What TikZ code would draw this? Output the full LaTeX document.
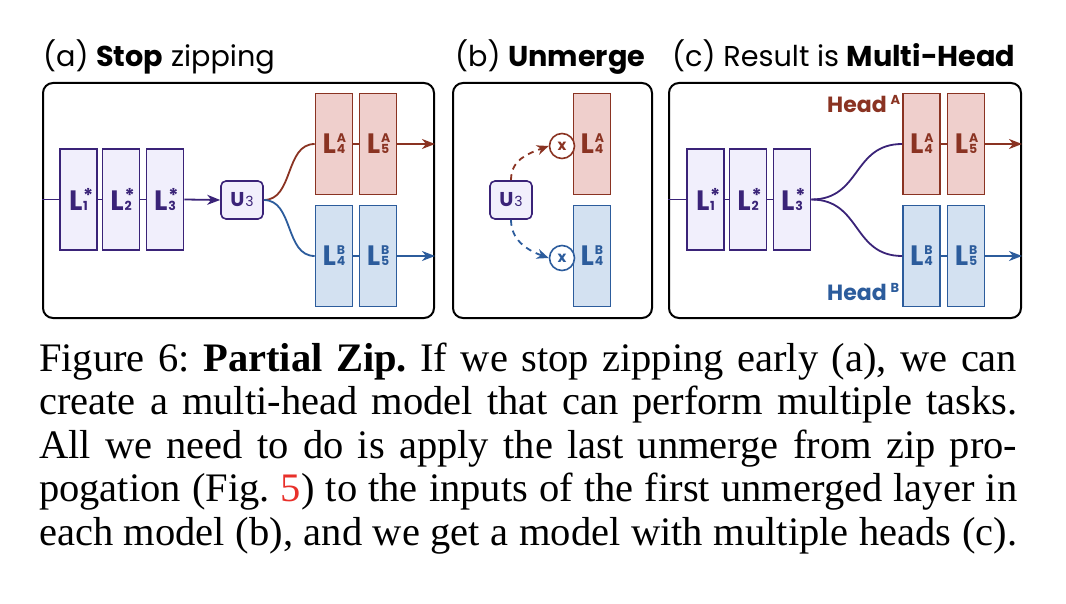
\documentclass[tikz,border=0pt]{standalone}
\usepackage{fontspec}
\setmainfont{Liberation Serif}
\newfontfamily\pop{Poppins}
\usetikzlibrary{arrows.meta}
\definecolor{cP}{HTML}{3A2378}
\definecolor{fP}{HTML}{F1EFFC}
\definecolor{cR}{HTML}{8A3322}
\definecolor{fR}{HTML}{EFCFCC}
\definecolor{cB}{HTML}{2C5C9C}
\definecolor{fB}{HTML}{D3E1F1}
\definecolor{refred}{HTML}{E8302A}
\newcommand\Lbl[2]{{\pop\fontsize{28}{28}\selectfont\bfseries L}\kern0.8pt\makebox[0pt][l]{\raisebox{11pt}{\pop\fontsize{12.5}{12.5}\selectfont\bfseries #2}}{\pop\fontsize{12.5}{12.5}\selectfont\bfseries #1}}
\newcommand\st{\raisebox{-3.5pt}{\pop\fontsize{19}{19}\selectfont\bfseries *}}
\newcommand\Ulbl{{\pop\fontsize{20}{20}\selectfont\bfseries U}\kern0.8pt{\pop\fontsize{14}{14}\selectfont 3}}
\newcommand\capfont{\fontsize{40.5}{43}\selectfont\frenchspacing}
\begin{document}
\begin{tikzpicture}[x=1pt,y=-1pt,
  lay/.style={draw, line width=1.6pt, minimum width=37pt, minimum height=101pt, inner sep=0pt},
  purp/.style={draw=cP, fill=fP, text=cP},
  redb/.style={draw=cR, fill=fR, text=cR},
  blub/.style={draw=cB, fill=fB, text=cB},
  ubox/.style={draw=cP, fill=fP, text=cP, line width=1.6pt, rounded corners=5pt, minimum width=42pt, minimum height=38pt, inner sep=0pt},
  panel/.style={draw=black, line width=2pt, rounded corners=10pt},
  title/.style={anchor=base west, inner sep=0pt, font=\pop\fontsize{28.7}{29}\selectfont},
  conn/.style={line width=1.8pt},
  arr/.style={line width=1.8pt, -{Stealth[length=13pt,width=10pt,inset=4pt]}},
  xcirc/.style={circle, fill=white, line width=1.6pt, minimum size=25pt, inner sep=0pt, font=\pop\bfseries\fontsize{15}{15}\selectfont},
  dsh/.style={line width=1.8pt, dash pattern=on 6pt off 5pt, -{Stealth[length=12pt,width=10pt,inset=4pt]}},
  capline/.style={anchor=base west, inner sep=0pt, font=\capfont}
]
\useasboundingbox (0,0) rectangle (1066,604);

% titles
\node[title] (ta) at (43,67) {(a) \textbf{Stop} zipping};
\node[title] (tb) at (455,67) {(b) \textbf{Unmerge}};
\node[title] (tc) at (672,67) {(c) Result is \textbf{Multi-Head}};

% panels
\node[panel, minimum width=391pt, minimum height=235pt, anchor=north west] (pa) at (42,82) {};
\node[panel, minimum width=199pt, minimum height=235pt, anchor=north west] (pb) at (452,82) {};
\node[panel, minimum width=352pt, minimum height=235pt, anchor=north west] (pc) at (668,82) {};

% ---------- (a)
\node[lay,purp] (a1) at (78.5,199.5) {\Lbl{1}{\st}};
\node[lay,purp] (a2) at (121,199.5) {\Lbl{2}{\st}};
\node[lay,purp] (a3) at (165,199.5) {\Lbl{3}{\st}};
\node[ubox] (au) at (242,200) {\Ulbl};
\node[lay,redb] (a4A) at (334,144) {\Lbl{4}{A}};
\node[lay,redb] (a5A) at (378,144) {\Lbl{5}{A}};
\node[lay,blub] (a4B) at (334,256) {\Lbl{4}{B}};
\node[lay,blub] (a5B) at (378,256) {\Lbl{5}{B}};
\coordinate (ain) at (pa.west |- a1.west);
\coordinate (aoutA) at (pa.east |- a5A.east);
\coordinate (aoutB) at (pa.east |- a5B.east);
\draw[conn, cP] (ain) -- (a1.west);
\draw[conn, cP] (a1.east) -- (a2.west);
\draw[conn, cP] (a2.east) -- (a3.west);
\draw[arr, cP] (a3.east) -- (au.west);
\draw[conn, cR] (au.east) .. controls +(30,0) and +(-30,0) .. (a4A.west);
\draw[conn, cB] (au.east) .. controls +(30,0) and +(-30,0) .. (a4B.west);
\draw[conn, cR] (a4A.east) -- (a5A.west);
\draw[conn, cB] (a4B.east) -- (a5B.west);
\draw[arr, cR] (a5A.east) -- (aoutA);
\draw[arr, cB] (a5B.east) -- (aoutB);

% ---------- (b)
\node[ubox] (bu) at (511,200) {\Ulbl};
\node[lay,redb] (b4A) at (592,144) {\Lbl{4}{A}};
\node[lay,blub] (b4B) at (592,256) {\Lbl{4}{B}};
\node[xcirc, draw=cR, text=cR] (xA) at (562,146) {x};
\node[xcirc, draw=cB, text=cB] (xB) at (562,258) {x};
\draw[dsh, cR] (bu.north) .. controls +(0,-20) and +(-22,8) .. (xA.west);
\draw[dsh, cB] (bu.south) .. controls +(0,20) and +(-22,-8) .. (xB.west);

% ---------- (c)
\node[lay,purp] (c1) at (705.5,199.5) {\Lbl{1}{\st}};
\node[lay,purp] (c2) at (748,199.5) {\Lbl{2}{\st}};
\node[lay,purp] (c3) at (792,199.5) {\Lbl{3}{\st}};
\node[lay,redb] (c4A) at (921.5,144) {\Lbl{4}{A}};
\node[lay,redb] (c5A) at (966,144) {\Lbl{5}{A}};
\node[lay,blub] (c4B) at (921.5,256) {\Lbl{4}{B}};
\node[lay,blub] (c5B) at (966,256) {\Lbl{5}{B}};
\coordinate (cin) at (pc.west |- c1.west);
\coordinate (coutA) at (pc.east |- c5A.east);
\coordinate (coutB) at (pc.east |- c5B.east);
\draw[conn, cP] (cin) -- (c1.west);
\draw[conn, cP] (c1.east) -- (c2.west);
\draw[conn, cP] (c2.east) -- (c3.west);
\draw[conn, cP] (c3.east) .. controls +(50,0) and +(-50,0) .. (c4A.west);
\draw[conn, cP] (c3.east) .. controls +(50,0) and +(-50,0) .. (c4B.west);
\draw[conn, cR] (c4A.east) -- (c5A.west);
\draw[conn, cB] (c4B.east) -- (c5B.west);
\draw[arr, cR] (c5A.east) -- (coutA);
\draw[arr, cB] (c5B.east) -- (coutB);
\node[anchor=base west, inner sep=0pt, text=cR] (hA) at (827,113) {\pop\bfseries\fontsize{22}{22}\selectfont Head\kern4pt\raisebox{8pt}{\fontsize{13}{13}\selectfont A}};
\node[anchor=base west, inner sep=0pt, text=cB] (hB) at (827,300) {\pop\bfseries\fontsize{22}{22}\selectfont Head\kern4pt\raisebox{8pt}{\fontsize{13}{13}\selectfont B}};

% ---------- caption
\node[capline] (l1) at (39,371) {\makebox[978pt][s]{Figure 6: \textbf{Partial Zip.} If we stop zipping early (a), we can}};
\node[capline] (l2) at (39,414.5) {\makebox[978pt][s]{create a multi-head model that can perform multiple tasks.}};
\node[capline] (l3) at (39,458) {\makebox[978pt][s]{All we need to do is apply the last unmerge from zip pro-}};
\node[capline] (l4) at (39,501.5) {\makebox[978pt][s]{pogation (Fig. \textcolor{refred}{5}) to the inputs of the first unmerged layer in}};
\node[capline] (l5) at (39,545) {\makebox[978pt][s]{each model (b), and we get a model with multiple heads (c).}};
\end{tikzpicture}
\end{document}
